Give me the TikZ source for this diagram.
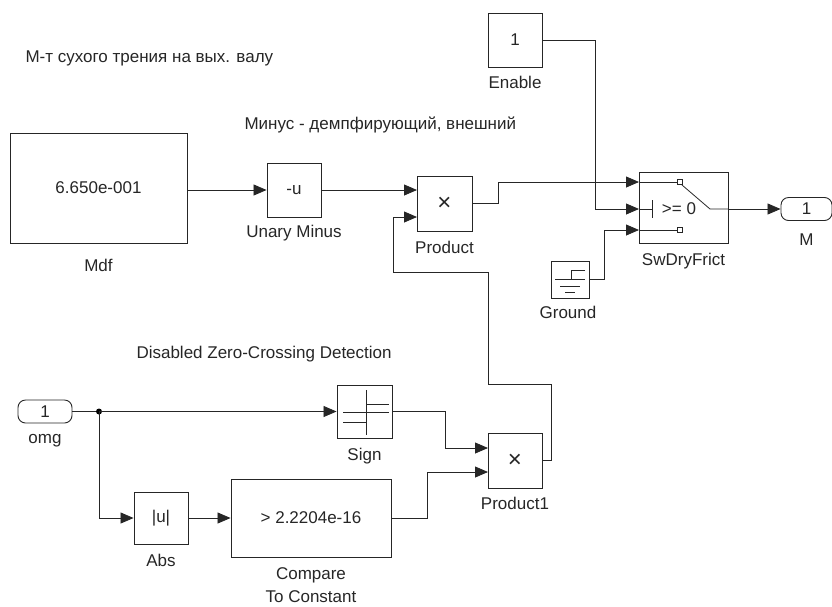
\documentclass[tikz,border=0pt]{standalone}
\usepackage{fontspec}
\setmainfont{Liberation Sans}
\usetikzlibrary{arrows.meta}
\tikzset{
  blk/.style={draw=black!85, fill=white, line width=0.9pt, inner sep=0pt},
  port/.style={blk, rounded corners=7.5pt, minimum width=54pt, minimum height=23pt},
  wire/.style={black!85, line width=0.8pt},
  sig/.style={wire, -{Triangle[length=13pt,width=11pt]}},
  icon/.style={black!85, line width=0.8pt},
  mult/.style={font=\fontsize{24}{26}\selectfont}
}
\begin{document}
\begin{tikzpicture}[x=1pt, y=-1pt, every node/.style={font=\fontsize{17}{20}\selectfont, text=black!85}]
  \useasboundingbox (0,0) rectangle (832,606);
  % annotations
  \node[anchor=west] (note-dry) at (22,58) {М-т сухого трения на вых. валу};
  \node[anchor=west] (note-minus) at (241,125) {Минус - демпфирующий, внешний};
  \node[anchor=west] (note-zc) at (133,354) {Disabled Zero-Crossing Detection};
  % blocks
  \node[blk, minimum width=54pt, minimum height=54pt] (enable) at (515,40) {1};
  \node at (515,82) {Enable};
  \node[blk, minimum width=177pt, minimum height=110pt] (mdf) at (98.5,188) {6.650e-001};
  \node at (98.5,265) {Mdf};
  \node[blk, minimum width=54pt, minimum height=54pt] (uminus) at (294,190) {-u};
  \node at (294,233) {Unary Minus};
  \node[blk, mult, minimum width=55pt, minimum height=55pt] (prod) at (444.5,203.5) {×};
  \node at (444.5,247) {Product};
  \node[blk, minimum width=89pt, minimum height=71pt] (sw) at (683.5,207.5) {};
  \node at (683.5,261) {SwDryFrict};
  \node[port, minimum width=51pt] (outM) at (806.5,209) {1};
  \node at (806.5,240) {M};
  \node[blk, minimum width=38pt, minimum height=37pt] (ground) at (570,279.5) {};
  \node at (568,312) {Ground};
  \node[port] (omg) at (45,411.5) {1};
  \node at (45,441) {omg};
  \node[blk, minimum width=55pt, minimum height=53pt] (sign) at (364.5,411.5) {};
  \node at (364.5,456) {Sign};
  \node[blk, mult, minimum width=54pt, minimum height=55pt] (prod1) at (515,460.5) {×};
  \node at (515,503) {Product1};
  \node[blk, minimum width=54pt, minimum height=52pt] (abs) at (161,518) {|u|};
  \node at (161,560) {Abs};
  \node[blk, minimum width=160pt, minimum height=78pt] (cmp) at (311,518) {> 2.2204e-16};
  \node at (311,575) {Compare};
  \node at (311,597) {To Constant};
  % switch icon
  \foreach \yy in {182,230} {
    \draw[icon] (639,\yy) -- (677,\yy);
    \draw[icon, fill=white] (677,\yy-2.5) rectangle (682,\yy+2.5);
  }
  \draw[icon] (682,185) -- (710,209) -- (728,209);
  \draw[icon] (639,209) -- (652,209) (652,200) -- (652,218);
  \node (sw-crit) at (679,209) {>= 0};
  % sign icon
  \draw[icon] (366,390) -- (366,435) (343,412) -- (389,412)
    (366,404) -- (389,404) (343,422) -- (366,422);
  % ground icon
  \draw[icon] (585,270) -- (571,270) -- (571,279) (555,279) -- (585,279)
    (560,286) -- (580,286) (565,292) -- (575,292);
  % ports
  \coordinate (prod-in1) at (417,190);
  \coordinate (prod-in2) at (417,217);
  \coordinate (sw-in1) at (639,182);
  \coordinate (sw-in2) at (639,209);
  \coordinate (sw-in3) at (639,230);
  \coordinate (prod1-in1) at (488,448);
  \coordinate (prod1-in2) at (488,472);
  \coordinate (split) at (99,411.5);
  % connections
  \draw[sig] (uminus.west -| mdf.east) -- (uminus.west);
  \draw[sig] (uminus.east) -- (prod-in1);
  \draw[sig] (prod.east) -- (498,203.5) -- (498,182) -- (sw-in1);
  \draw[sig] (enable.east) -- (595,40) -- (595,209) -- (sw-in2);
  \draw[sig] (589,279) -- (604,279) -- (604,230) -- (sw-in3);
  \draw[sig] (728,209) -- (outM.west);
  \draw[sig] (prod1.east) -- (551,460.5) -- (551,384) -- (488,384) -- (488,272)
    -- (393,272) -- (393,217) -- (prod-in2);
  \draw[wire] (omg.east) -- (split);
  \fill[black] (split) circle (3pt);
  \draw[sig] (split) -- (sign.west);
  \draw[sig] (split) -- (99,518) -- (abs.west);
  \draw[sig] (abs.east) -- (cmp.west);
  \draw[sig] (sign.east) -- (445,411.5) -- (445,448) -- (prod1-in1);
  \draw[sig] (cmp.east) -- (427,518) -- (427,472) -- (prod1-in2);
\end{tikzpicture}
\end{document}
